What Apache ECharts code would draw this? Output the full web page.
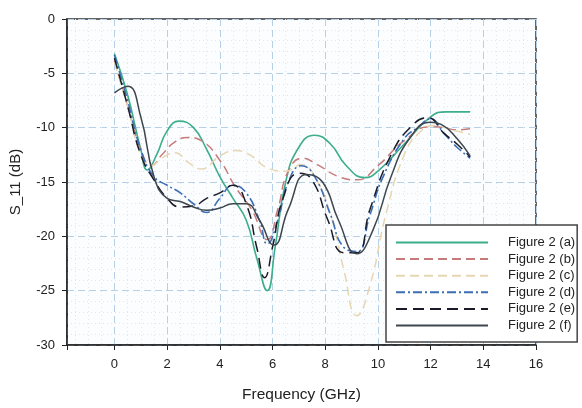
<!DOCTYPE html>
<html><head><meta charset="utf-8">
<script src="https://cdn.jsdelivr.net/npm/echarts@6/dist/echarts.min.js"></script>
<style>html,body{margin:0;padding:0;background:#fff}#c{width:582px;height:408px}</style>
</head><body><div id="c"></div>
<script>
const seriesNames = ['Figure 2 (a)','Figure 2 (b)','Figure 2 (c)','Figure 2 (d)','Figure 2 (e)','Figure 2 (f)'];
const xTicks = [0,2,4,6,8,10,12,14,16];
const yTicks = [0,-5,-10,-15,-20,-25,-30];
// [frequency GHz, S11 dB]
const figA = [[0,-3.2],[0.5,-7],[1,-12],[1.25,-13.9],[1.6,-12.5],[2,-10.3],[2.45,-9.4],[3,-10],[3.5,-12],[4,-14.5],[4.5,-16.5],[5,-18.5],[5.4,-22],[5.8,-25],[6.1,-21],[6.5,-15],[7,-11.8],[7.6,-10.7],[8.2,-11.5],[8.8,-13.5],[9.5,-14.6],[10,-14],[11,-11.5],[12,-9],[12.6,-8.55],[13.5,-8.55]];
const figB = [[0,-3.8],[0.5,-8],[1,-12],[1.4,-13.5],[1.8,-12.5],[2.3,-11.3],[2.8,-10.9],[3.3,-11.2],[4,-13],[4.6,-15.5],[5.2,-17.5],[5.8,-20.3],[6.2,-17.5],[6.6,-14],[7.15,-12.8],[7.7,-13.4],[8.5,-14.5],[9.2,-14.8],[10,-13.5],[11,-11.2],[12,-9.9],[12.5,-10],[13,-10.2],[13.5,-10.1]];
const figC = [[0,-4],[0.5,-8],[1,-12.5],[1.4,-13.5],[1.8,-12.8],[2.3,-12.3],[2.8,-13.2],[3.3,-13.8],[4,-12.6],[4.6,-12.1],[5.2,-12.6],[5.8,-13.7],[6.5,-14],[7.1,-13.4],[7.6,-14.5],[8.2,-18],[8.7,-23],[9.2,-27.3],[9.7,-24.5],[10.3,-18],[11,-12.5],[11.6,-10.4],[12.2,-9.8],[12.8,-10.2],[13.5,-10.6]];
const figD = [[0,-3.3],[0.5,-7.5],[1,-12],[1.5,-14.5],[2,-15.3],[2.5,-16],[3,-17],[3.5,-17.8],[4,-16.5],[4.5,-15.3],[5,-16],[5.5,-18.5],[5.8,-20.7],[6.2,-18.5],[6.6,-15],[7.1,-13.5],[7.6,-14.5],[8.2,-18],[8.7,-21],[9.2,-21.4],[9.7,-18],[10.2,-14.5],[11,-11],[11.5,-10],[12,-9.2],[12.5,-10.5],[13,-11.8],[13.5,-12.8]];
const figE = [[0,-3.6],[0.5,-8],[1,-12.5],[1.5,-14.8],[2,-16.5],[2.5,-17.3],[3,-17.2],[3.5,-16.5],[4,-16],[4.5,-15.3],[5,-17],[5.4,-21],[5.7,-23.8],[6,-21],[6.4,-16.5],[7,-14.2],[7.5,-14.8],[8.1,-18.5],[8.7,-21.5],[9.2,-21.5],[9.7,-17.5],[10.5,-12.5],[11.3,-9.8],[11.9,-9.1],[12.5,-10.5],[13,-11.5],[13.5,-12.7]];
const figF = [[0,-6.8],[0.5,-6.2],[1,-9],[1.5,-14.5],[2,-16.5],[2.5,-16.8],[3,-17.3],[3.5,-17.6],[4,-17.4],[4.5,-17],[5,-17],[5.5,-18.5],[6.05,-20.8],[6.6,-17.5],[7.3,-14.3],[7.9,-15],[8.5,-18.5],[9.2,-21.6],[9.8,-19.5],[10.5,-14.5],[11.2,-11],[12,-9.5],[12.4,-9.7],[13,-11],[13.5,-12.6]];

const allData = [figA, figB, figC, figD, figE, figF];
const styles = [
  {color:'#3dae8a', type:'solid', width:1.6},
  {color:'#c77a7a', type:[9,5], width:1.5},
  {color:'#e6d7b2', type:[9,5], width:1.5},
  {color:'#3c6eb4', type:[9,3,2,3], width:1.6},
  {color:'#1b1b28', type:[11,6], width:1.5},
  {color:'#3e464e', type:'solid', width:1.5}
];
const font = 'Liberation Sans, Arial';
const chart = echarts.init(document.getElementById('c'), null, {renderer:'canvas'});
chart.setOption({
  animation:false,
  backgroundColor:'#fff',
  grid:{left:67, right:46, top:19, bottom:55, show:true, borderColor:'#333', borderWidth:1.5, backgroundColor:'#fcfdff'},
  legend:{
    orient:'vertical', left:386, top:225, width:194,
    backgroundColor:'#fff', borderColor:'#444', borderWidth:1.5,
    padding:[11,2,10,9], itemWidth:92, itemHeight:12, itemGap:3.6,
    itemStyle:{opacity:0},
    textStyle:{fontSize:13, color:'#222', fontFamily:font, padding:[0,0,0,15]},
    data: seriesNames
  },
  xAxis:{
    type:'value', min:-1.8, max:16, splitNumber:9,
    name:'Frequency (GHz)', nameLocation:'middle', nameGap:42,
    nameTextStyle:{fontSize:15.5, color:'#222', fontFamily:font},
    axisLine:{show:true, onZero:false, lineStyle:{color:'#222', width:1.5}},
    axisTick:{show:true, inside:false, length:5, lineStyle:{color:'#222'}},
    axisLabel:{fontSize:13, color:'#222', margin:13, fontFamily:font, showMinLabel:true, showMaxLabel:true,
      formatter:function(v){ return xTicks.indexOf(Math.round(v*1000)/1000)>=0 ? String(Math.round(v)) : ''; }},
    splitLine:{show:true, lineStyle:{color:'#b7d0e6', type:[7,4], width:1}},
    minorTick:{show:false, splitNumber:4},
    minorSplitLine:{show:true, lineStyle:{color:'#dde8f2', type:[1,3], width:1}}
  },
  yAxis:{
    type:'value', min:-30, max:0, interval:5,
    name:'S_11 (dB)', nameLocation:'middle', nameGap:44, nameRotate:90,
    nameTextStyle:{fontSize:15, color:'#222', fontFamily:font},
    axisLine:{show:true, onZero:false, lineStyle:{color:'#222', width:1.5}},
    axisTick:{show:true, inside:false, length:5, lineStyle:{color:'#222'}},
    axisLabel:{fontSize:13, color:'#222', margin:12, fontFamily:font,
      formatter:function(v){ return yTicks.indexOf(v)>=0 ? String(v) : ''; }},
    splitLine:{show:true, lineStyle:{color:'#b7d0e6', type:[7,4], width:1}},
    minorTick:{show:false, splitNumber:5},
    minorSplitLine:{show:true, lineStyle:{color:'#dde8f2', type:[1,3], width:1}}
  },
  series: allData.map(function(d,i){
    return {
      name: seriesNames[i], type:'line', data:d, smooth:0.5, symbol:'none', showSymbol:false,
      lineStyle: styles[i], itemStyle:{color:styles[i].color, opacity:0}, z: 3+i
    };
  })
});
</script></body></html>
